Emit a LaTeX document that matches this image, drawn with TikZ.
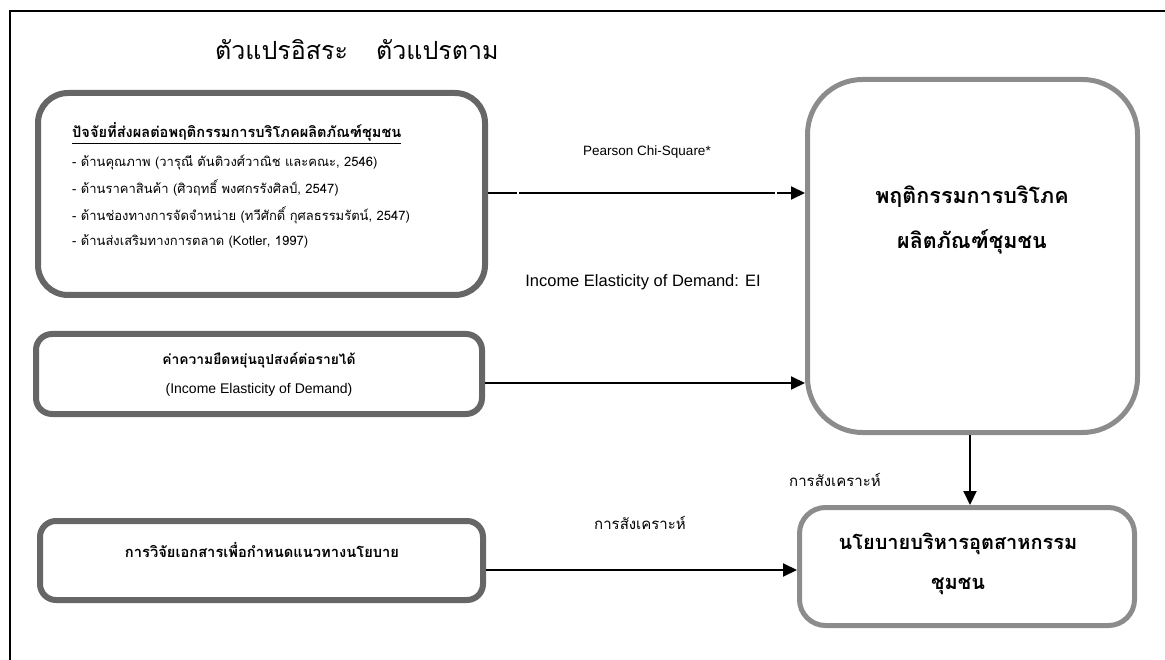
\documentclass[tikz,border=0pt]{standalone}
\usepackage{fontspec}
\setmainfont{Liberation Sans}
\newfontfamily\thai[Script=Thai]{Loma}
\usetikzlibrary{arrows.meta}
\definecolor{boxdark}{HTML}{666666}
\definecolor{boxlight}{HTML}{8C8C8C}
\tikzset{
  inbox/.style={draw=boxdark, line width=6pt, rounded corners=#1, fill=white, inner sep=0pt},
  outbox/.style={draw=boxlight, line width=5pt, rounded corners=#1, fill=white, inner sep=0pt, align=center},
  arr/.style={line width=2pt, -{Triangle[length=14pt,width=13pt]}},
  lbl/.style={inner sep=0pt, font=\fontsize{13}{15}\selectfont},
}
\begin{document}
\begin{tikzpicture}[x=1pt,y=-1pt]
\useasboundingbox (0,0) rectangle (1165,660);
% frame
\draw[line width=1.8pt] (10,660) -- (10,11) -- (1165,11);
% heading
\node[anchor=west, inner sep=0pt, font=\thai\fontsize{25}{28}\selectfont] (h1) at (215,50) {ตัวแปรอิสระ};
\node[anchor=west, inner sep=0pt, font=\thai\fontsize{25}{28}\selectfont] (h2) at (376,50) {ตัวแปรตาม};
% boxes
\node[inbox=30pt, minimum width=447pt, minimum height=202pt] (b1) at (261.5,194) {};
\node[inbox=16pt, minimum width=446pt, minimum height=80pt] (b2) at (259,374) {};
\node[inbox=16pt, minimum width=443pt, minimum height=79pt] (b3) at (261.5,560.5) {};
\node[outbox=55pt, minimum width=330pt, minimum height=353pt] (big) at (972.5,256) {};
\node[outbox=26pt, minimum width=335pt, minimum height=118pt] (pol) at (967,566.5) {};
% box1 texts
\node[anchor=west, inner sep=0pt, font=\thai\bfseries\fontsize{14.6}{17}\selectfont] (t0) at (72,133) {\underline{ปัจจัยที่ส่งผลต่อพฤติกรรมการบริโภคผลิตภัณฑ์ชุมชน}};
\node[anchor=west, inner sep=0pt, font=\thai\fontsize{13}{16}\selectfont] (t1) at (72,162) {- ด้านคุณภาพ (วารุณี ตันติวงศ์วาณิช และคณะ, 2546)};
\node[anchor=west, inner sep=0pt, font=\thai\fontsize{13}{16}\selectfont] (t2) at (72,188) {- ด้านราคาสินค้า (ศิวฤทธิ์ พงศกรรังศิลป์, 2547)};
\node[anchor=west, inner sep=0pt, font=\thai\fontsize{13}{16}\selectfont] (t3) at (72,215) {- ด้านช่องทางการจัดจำหน่าย (ทวีศักดิ์ กุศลธรรมรัตน์, 2547)};
\node[anchor=west, inner sep=0pt, font=\thai\fontsize{13}{16}\selectfont] (t4) at (72,241) {- ด้านส่งเสริมทางการตลาด (Kotler, 1997)};
% box2 texts
\node[inner sep=0pt, font=\thai\bfseries\fontsize{13.8}{16}\selectfont] (u1) at (259,360) {ค่าความยืดหยุ่นอุปสงค์ต่อรายได้};
\node[inner sep=0pt, font=\fontsize{14}{16}\selectfont] (u2) at (259,390) {(Income Elasticity of Demand)};
% box3 text
\node[inner sep=0pt, font=\thai\bfseries\fontsize{14.7}{17}\selectfont] (v1) at (262,550) {การวิจัยเอกสารเพื่อกำหนดแนวทางนโยบาย};
% big box text
\node[inner sep=0pt, align=center, font=\thai\bfseries\fontsize{21.5}{45}\selectfont] (w1) at (972,220) {พฤติกรรมการบริโภค\\ผลิตภัณฑ์ชุมชน};
\node[inner sep=0pt, align=center, font=\thai\bfseries\fontsize{20}{40}\selectfont] (p1) at (958,564) {นโยบายบริหารอุตสาหกรรม\\ชุมชน};
% connectors
\draw[arr, dash pattern=on 29pt off 2pt on 256pt off 2pt on 200pt] (b1.east |- 0,193) -- (big.west |- 0,193);
\draw[arr] (b2.east |- 0,383) -- (big.west |- 0,383);
\draw[arr] (b3.east |- 0,570) -- (pol.west |- 0,570);
\draw[arr] (big.south -| 970,0) -- (pol.north -| 970,0);
% labels
\node[lbl, font=\fontsize{13.5}{15}\selectfont] (l1) at (647,152) {Pearson Chi-Square*};
\node[lbl, font=\fontsize{16.5}{18}\selectfont] (l2) at (643,282) {Income Elasticity of Demand: EI};
\node[lbl, font=\thai\fontsize{15}{18}\selectfont] (l3) at (835,480) {การสังเคราะห์};
\node[lbl, font=\thai\fontsize{15}{18}\selectfont] (l4) at (640,523) {การสังเคราะห์};
\end{tikzpicture}
\end{document}
